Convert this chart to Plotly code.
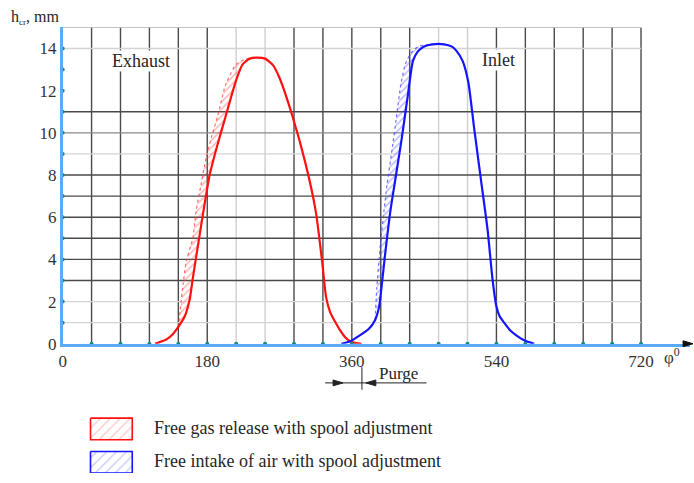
import numpy as np
import plotly.graph_objects as go

# ---------------- data ----------------
exhaust_deg = [115, 129, 137, 144, 152, 158, 162, 168, 177, 183, 191, 203, 216, 224, 233, 242,
               252, 262, 270, 286, 302, 315, 323, 328, 333, 339, 346, 352, 358, 365, 372]
exhaust_mm = [0, 0.2, 0.45, 0.8, 1.3, 2.07, 3.1, 4.55, 6.7, 8.0, 9.2, 10.8, 12.5, 13.25, 13.52, 13.57,
              13.52, 13.2, 12.6, 10.8, 8.6, 6.3, 3.9, 2.2, 1.5, 1.05, 0.6, 0.3, 0.12, 0.03, 0]
exhaust_adj_deg = [144, 145, 150, 154, 162, 166, 172, 179, 186, 193, 203, 216, 228, 242]
exhaust_adj_mm = [0.8, 1.13, 2.84, 3.93, 5.0, 6.26, 7.5, 8.9, 9.9, 10.8, 12.3, 13.25, 13.5, 13.57]

inlet_deg = [347, 358, 368, 381, 389, 394, 397, 401, 408, 415, 422, 430, 436, 442, 450, 460, 475,
             484, 490, 498, 505, 512, 521, 529, 535, 540, 544, 550, 558, 566, 575, 587]
inlet_mm = [0, 0.12, 0.35, 0.7, 1.13, 1.76, 2.7, 4.1, 6.3, 8.0, 9.7, 11.86, 13.4, 13.85, 14.1, 14.2, 14.2,
            14.1, 13.9, 13.4, 12.4, 10.3, 7.7, 5.4, 3.1, 1.76, 1.3, 0.98, 0.6, 0.36, 0.15, 0]
inlet_adj_deg = [389, 391, 395, 400, 404, 410, 416, 421, 427, 434, 443, 460]
inlet_adj_mm = [1.13, 2.6, 4.5, 6.3, 7.6, 9.2, 10.9, 12.3, 13.3, 13.8, 14.1, 14.2]

x_ticks = [0, 180, 360, 540, 720]
y_ticks = [0, 2, 4, 6, 8, 10, 12, 14]
grid_x_dark = [36, 72, 108, 144, 180, 288, 324, 360, 396, 432, 540, 576, 612, 648, 684, 720]
grid_x_light = [216, 252, 468, 504]
grid_y_dark = [3, 4, 5, 6, 7, 8, 11]
grid_y_mid = [10, 15]
grid_y_light = [1, 2, 9, 14]
x_dot_step = 36
legend_labels = ["Free gas release with spool adjustment",
                 "Free intake of air with spool adjustment"]

SERIF = "Liberation Serif"
AXIS_BLUE = "#5aaaf5"
DOT = "#138a86"
RED = "#ff1010"
BLUE = "#1414ff"
TXT = "#262626"

fig = go.Figure()


def hatch_polygon(sd, sm, ad, am):
    sd = np.asarray(sd, float)
    sm = np.asarray(sm, float)
    mask = (sd >= ad[0]) & (sd <= ad[-1])
    xs = list(ad) + list(sd[mask][::-1])
    ys = list(am) + list(sm[mask][::-1])
    return xs, ys


for sd, sm, ad, am, col, fg in [
    (exhaust_deg, exhaust_mm, exhaust_adj_deg, exhaust_adj_mm, RED, "rgba(255,60,60,0.75)"),
    (inlet_deg, inlet_mm, inlet_adj_deg, inlet_adj_mm, BLUE, "rgba(70,70,255,0.75)"),
]:
    px_, py_ = hatch_polygon(sd, sm, ad, am)
    fig.add_trace(go.Scatter(
        x=px_, y=py_, mode="lines", fill="toself",
        fillcolor="rgba(255,255,255,0)",
        fillpattern=dict(shape="/", fgcolor=fg, bgcolor="rgba(255,255,255,0)", size=5, solidity=0.3),
        line=dict(color="rgba(0,0,0,0)", width=0), hoverinfo="skip"))
    fig.add_trace(go.Scatter(
        x=ad, y=am, mode="lines", line=dict(color=fg, width=1.2, dash="dot", shape="spline", smoothing=0.6),
        hoverinfo="skip"))
    fig.add_trace(go.Scatter(
        x=sd, y=sm, mode="lines", line=dict(color=col, width=2.2, shape="spline", smoothing=0.6)))

# tick dots along the axes
x_dots = list(range(x_dot_step, x_ticks[-1] + 1, x_dot_step))
y_dots = list(range(1, y_ticks[-1] + 1))
fig.add_trace(go.Scatter(x=x_dots, y=[0] * len(x_dots), mode="markers",
                         marker=dict(color=DOT, size=4), cliponaxis=False, hoverinfo="skip"))
fig.add_trace(go.Scatter(x=[0] * len(y_dots), y=y_dots, mode="markers",
                         marker=dict(color=DOT, size=4), cliponaxis=False, hoverinfo="skip"))

# grid lines
shapes = []
for v in grid_x_dark:
    shapes.append(dict(type="line", xref="x", yref="y", x0=v, x1=v, y0=0, y1=15, layer="below",
                       line=dict(color="#4a4a4a", width=1.4)))
for v in grid_x_light:
    shapes.append(dict(type="line", xref="x", yref="y", x0=v, x1=v, y0=0, y1=15, layer="below",
                       line=dict(color="#cfcfcf", width=1.4)))
for v in grid_y_dark:
    shapes.append(dict(type="line", xref="x", yref="y", x0=0, x1=720, y0=v, y1=v, layer="below",
                       line=dict(color="#4a4a4a", width=1.4)))
for v in grid_y_mid:
    shapes.append(dict(type="line", xref="x", yref="y", x0=0, x1=720, y0=v, y1=v, layer="below",
                       line=dict(color="#8a8a8a", width=1.3)))
for v in grid_y_light:
    shapes.append(dict(type="line", xref="x", yref="y", x0=0, x1=720, y0=v, y1=v, layer="below",
                       line=dict(color="#d4d4d4", width=1.3)))

# purge dimension and axis arrow (page pixel axes x2/y2)
shapes += [
    dict(type="line", xref="x2", yref="y2", x0=323, x1=425, y0=391, y1=391,
         line=dict(color="#222", width=1)),
    dict(type="line", xref="x2", yref="y2", x0=360, x1=360, y0=375, y1=398,
         line=dict(color="#222", width=1)),
    dict(type="path", xref="x2", yref="y2", path="M 341 391 L 331 388 L 331 394 Z",
         fillcolor="#222", line=dict(color="#222", width=1)),
    dict(type="path", xref="x2", yref="y2", path="M 364 391 L 374 388 L 374 394 Z",
         fillcolor="#222", line=dict(color="#222", width=1)),
    dict(type="path", xref="x2", yref="y2", path="M 693 351 L 683 348 L 683 354 Z",
         fillcolor="#111", line=dict(color="#111", width=1)),
]

# legend swatches
legend_cols = [(RED, "rgba(255,60,60,0.55)"), (BLUE, "rgba(60,60,255,0.55)")]
legend_top = [427, 461]
for (col, fg), top in zip(legend_cols, legend_top):
    fig.add_trace(go.Scatter(
        x=[87, 129, 129, 87, 87], y=[top, top, top + 22, top + 22, top],
        xaxis="x2", yaxis="y2", mode="lines", fill="toself",
        fillcolor="rgba(255,255,255,0)",
        fillpattern=dict(shape="/", fgcolor=fg, bgcolor="rgba(255,255,255,0)", size=7, solidity=0.2),
        line=dict(color=col, width=1.6), hoverinfo="skip"))

annotations = []
for txt, top in zip(legend_labels, legend_top):
    annotations.append(dict(xref="x2", yref="y2", x=149, y=top + 10, text=txt, showarrow=False,
                            xanchor="left", yanchor="middle",
                            font=dict(family=SERIF, size=18, color=TXT)))
annotations += [
    dict(xref="x", yref="y", x=97, y=13.4, text="Exhaust", showarrow=False, bgcolor="white",
         font=dict(family=SERIF, size=18, color=TXT), borderpad=0),
    dict(xref="x", yref="y", x=543, y=13.45, text="Inlet", showarrow=False, bgcolor="white",
         font=dict(family=SERIF, size=18, color=TXT), borderpad=0),
    dict(xref="x2", yref="y2", x=5, y=18, text="h<sub><span style='font-size:9px'>cr</span></sub>, mm",
         showarrow=False, xanchor="left", yanchor="middle",
         font=dict(family=SERIF, size=16, color=TXT)),
    dict(xref="x2", yref="y2", x=672, y=364, text="φ<sup>0</sup>", showarrow=False,
         xanchor="center", yanchor="middle", font=dict(family=SERIF, size=17, color="#333")),
    dict(xref="x2", yref="y2", x=397, y=381, text="Purge", showarrow=False,
         xanchor="center", yanchor="middle", font=dict(family=SERIF, size=17, color=TXT)),
]

fig.update_layout(
    width=694, height=483, margin=dict(l=0, r=0, t=0, b=0),
    paper_bgcolor="white", plot_bgcolor="rgba(0,0,0,0)", showlegend=False,
    shapes=shapes, annotations=annotations,
    xaxis=dict(domain=[59 / 694, 690 / 694], range=[0, 781], anchor="y",
               tickvals=x_ticks, ticktext=[str(v) for v in x_ticks],
               showgrid=False, zeroline=False, showline=True, linecolor=AXIS_BLUE, linewidth=2.5,
               ticks="", tickfont=dict(family=SERIF, size=17, color="#333")),
    yaxis=dict(domain=[132 / 483, 455 / 483], range=[0, 15], anchor="x",
               tickvals=y_ticks, ticktext=[str(v) for v in y_ticks],
               showgrid=False, zeroline=False, showline=True, linecolor=AXIS_BLUE, linewidth=2.5,
               ticks="", tickfont=dict(family=SERIF, size=17, color="#333")),
    xaxis2=dict(domain=[0, 1], range=[0, 694], anchor="y2", visible=False),
    yaxis2=dict(domain=[0, 1], range=[483, 0], anchor="x2", visible=False),
)

fig.write_html(
    "out.html",
    config={"displayModeBar": False},
    post_script=("document.documentElement.style.margin='0px';"
                 "document.body.style.margin='0px';"
                 "document.body.style.overflow='hidden';"
                 "document.documentElement.style.overflow='hidden';"
                 "window.scrollTo(0,0);"),
)
